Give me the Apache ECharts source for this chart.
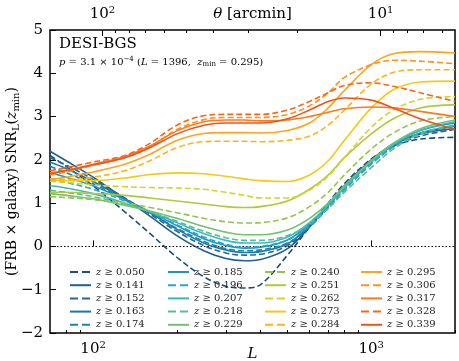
<!DOCTYPE html>
<html>
<head>
<meta charset="utf-8">
<script src="https://cdn.jsdelivr.net/npm/echarts@6/dist/echarts.min.js"></script>
<style>
  html, body { margin: 0; padding: 0; background: #fff; }
  #chart { width: 459px; height: 361px; }
</style>
</head>
<body>
<div id="chart"></div>
<script>
// multipole L sample points
const L = [70, 80, 100, 130, 160, 200, 250, 300, 350, 400, 500, 600, 700, 800, 1000, 1200, 1500, 2000];

// z_min of each curve, dashed/solid alternating
const zMin = ['0.050', '0.141', '0.152', '0.163', '0.174', '0.185', '0.196', '0.207', '0.218', '0.229',
              '0.240', '0.251', '0.262', '0.273', '0.284', '0.295', '0.306', '0.317', '0.328', '0.339'];

const colors = ['#1d4e78', '#235e8c', '#22699a', '#1c77a5', '#1886b0', '#1a96bb', '#22a8c8', '#3cb8bc',
                '#52bd98', '#72c170', '#94c44e', '#b0c83a', '#d8d22c', '#f6c913', '#fbb616', '#fca61b',
                '#fb931c', '#fa7c1a', '#f7671a', '#f2521b'];

// SNR values per curve
const snr050 = [2.10, 1.85, 1.40, 0.80, 0.30, -0.25, -0.70, -0.92, -0.96, -0.88, -0.20, 0.45, 1.00, 1.45, 2.02, 2.32, 2.48, 2.52];
const snr141 = [2.20, 1.98, 1.60, 1.10, 0.70, 0.25, -0.10, -0.28, -0.33, -0.30, -0.05, 0.45, 0.95, 1.40, 2.00, 2.35, 2.60, 2.72];
const snr152 = [2.05, 1.88, 1.55, 1.12, 0.75, 0.35, 0.02, -0.15, -0.20, -0.18, 0.02, 0.45, 0.92, 1.35, 1.95, 2.30, 2.55, 2.70];
const snr163 = [1.95, 1.80, 1.50, 1.10, 0.78, 0.40, 0.08, -0.08, -0.14, -0.12, 0.06, 0.48, 0.95, 1.38, 1.98, 2.35, 2.62, 2.78];
const snr174 = [1.85, 1.70, 1.45, 1.08, 0.78, 0.42, 0.12, -0.05, -0.10, -0.08, 0.08, 0.45, 0.90, 1.32, 1.92, 2.30, 2.60, 2.78];
const snr185 = [1.70, 1.60, 1.40, 1.08, 0.80, 0.48, 0.18, 0.02, -0.04, -0.02, 0.15, 0.52, 0.95, 1.38, 1.98, 2.38, 2.68, 2.85];
const snr196 = [1.55, 1.48, 1.32, 1.05, 0.80, 0.50, 0.22, 0.05, -0.02, 0.00, 0.15, 0.48, 0.88, 1.30, 1.90, 2.30, 2.62, 2.80];
const snr207 = [1.40, 1.35, 1.22, 1.00, 0.80, 0.55, 0.30, 0.14, 0.08, 0.08, 0.22, 0.55, 0.95, 1.35, 1.95, 2.35, 2.68, 2.88];
const snr218 = [1.30, 1.25, 1.15, 0.98, 0.80, 0.58, 0.35, 0.20, 0.14, 0.14, 0.25, 0.52, 0.88, 1.25, 1.82, 2.25, 2.60, 2.80];
const snr229 = [1.22, 1.18, 1.10, 0.95, 0.82, 0.65, 0.46, 0.33, 0.27, 0.27, 0.38, 0.65, 1.00, 1.40, 1.98, 2.38, 2.72, 2.92];
const snr240 = [1.15, 1.13, 1.08, 1.00, 0.90, 0.78, 0.65, 0.57, 0.54, 0.55, 0.66, 0.92, 1.25, 1.65, 2.25, 2.62, 2.90, 3.00];
const snr251 = [1.25, 1.25, 1.22, 1.18, 1.12, 1.05, 0.98, 0.92, 0.90, 0.92, 1.05, 1.32, 1.65, 2.05, 2.60, 2.95, 3.20, 3.27];
const snr262 = [1.50, 1.48, 1.42, 1.38, 1.36, 1.35, 1.32, 1.25, 1.18, 1.12, 1.12, 1.30, 1.62, 2.05, 2.75, 3.15, 3.40, 3.46];
const snr273 = [1.55, 1.52, 1.52, 1.58, 1.66, 1.70, 1.68, 1.62, 1.56, 1.52, 1.50, 1.65, 1.98, 2.45, 3.20, 3.62, 3.80, 3.82];
const snr284 = [1.55, 1.55, 1.60, 1.75, 1.98, 2.28, 2.42, 2.43, 2.43, 2.42, 2.45, 2.55, 2.80, 3.15, 3.75, 4.02, 4.08, 4.08];
const snr295 = [1.55, 1.60, 1.72, 1.90, 2.13, 2.45, 2.61, 2.63, 2.63, 2.62, 2.68, 2.85, 3.20, 3.60, 4.20, 4.45, 4.50, 4.47];
const snr306 = [1.65, 1.72, 1.88, 2.05, 2.30, 2.70, 2.93, 2.98, 2.98, 2.98, 3.05, 3.25, 3.55, 3.90, 4.20, 4.30, 4.28, 4.22];
const snr317 = [1.70, 1.76, 1.90, 2.08, 2.32, 2.67, 2.88, 2.92, 2.92, 2.90, 2.92, 3.00, 3.10, 3.18, 3.22, 3.20, 3.12, 3.00];
const snr328 = [1.75, 1.82, 1.95, 2.10, 2.38, 2.80, 3.02, 3.05, 3.05, 3.05, 3.15, 3.35, 3.55, 3.72, 3.78, 3.70, 3.55, 3.35];
const snr339 = [1.68, 1.75, 1.88, 2.05, 2.28, 2.60, 2.80, 2.85, 2.85, 2.85, 2.95, 3.15, 3.35, 3.43, 3.38, 3.20, 2.95, 2.70];

const curves = [snr050, snr141, snr152, snr163, snr174, snr185, snr196, snr207, snr218, snr229,
                snr240, snr251, snr262, snr273, snr284, snr295, snr306, snr317, snr328, snr339];

// tick labels
const bottomMajor = [100, 1000];
const bottomMinor = [80, 90, 200, 300, 400, 500, 600, 700, 800, 900, 2000];
const thetaMajor = [100, 10];
const thetaMinor = [90, 80, 70, 60, 50, 40, 30, 20, 9, 8, 7, 6];
const yTicks = [-2, -1, 0, 1, 2, 3, 4, 5];

// theta [arcmin] = 10800 / L
const thetaToL = t => 10800 / t;

const FONT = 'DejaVu Serif';
const supRich = {
    b: { fontFamily: FONT, fontSize: 15, color: '#000' },
    s: { fontFamily: FONT, fontSize: 10, color: '#000', verticalAlign: 'bottom', padding: [0, 0, 9, 0] }
};

const myChart = echarts.init(document.querySelector('#chart'));

const isDashed = i => i % 2 === 0;

const series = curves.map((vals, i) => ({
    name: zMin[i],
    type: 'line',
    xAxisIndex: 0,
    yAxisIndex: 0,
    data: vals.map((v, j) => [L[j], v]),
    smooth: 0.35,
    symbol: 'none',
    showSymbol: false,
    z: 2 + i,
    lineStyle: {
        color: colors[i],
        width: 1.6,
        type: isDashed(i) ? [6, 3] : 'solid'
    },
    itemStyle: { color: colors[i] }
}));

// dotted zero line
series[0].markLine = {
    silent: true,
    symbol: 'none',
    label: { show: false },
    lineStyle: { color: '#000', type: [1.5, 2], width: 1.2 },
    data: [{ yAxis: 0 }]
};

const legendCols = [0, 1, 2, 3].map(c => ({
    left: [64, 162, 259, 355][c],
    top: 262,
    orient: 'vertical',
    itemWidth: 21,
    itemHeight: 10,
    itemGap: 3.2,
    data: zMin.slice(c * 5, c * 5 + 5).map((name, k) => ({
        name,
        lineStyle: { width: 2, type: isDashed(c * 5 + k) ? [8, 4] : 'solid' }
    })),
    itemStyle: { opacity: 0 },
    formatter: name => '{i|z} ≥ ' + name,
    textStyle: {
        fontFamily: FONT, fontSize: 10, color: '#222', lineHeight: 10,
        rich: { i: { fontFamily: FONT, fontStyle: 'italic', fontSize: 10, color: '#222' } }
    }
}));

const option = {
    animation: false,
    backgroundColor: '#fff',
    grid: {
        left: 50, right: 4, top: 30, bottom: 28,
        containLabel: false, outerBoundsMode: 'none',
        show: true, borderColor: '#000', borderWidth: 1.5
    },
    legend: legendCols,
    xAxis: [
        {
            type: 'log', position: 'bottom', min: 70, max: 2000,
            axisLine: { show: false },
            splitLine: { show: false },
            axisTick: { inside: true, length: 6, lineStyle: { color: '#000', width: 1 }, customValues: bottomMajor },
            axisLabel: {
                margin: 7, customValues: bottomMajor,
                formatter: v => '{b|10}{s|' + Math.round(Math.log10(v)) + '}',
                rich: supRich
            },
            name: 'L', nameLocation: 'middle', nameGap: 14, nameMoveOverlap: false,
            nameTextStyle: { fontFamily: FONT, fontStyle: 'italic', fontSize: 15, color: '#000', verticalAlign: 'top' }
        },
        {
            type: 'log', position: 'bottom', min: 70, max: 2000,
            axisLine: { show: false }, splitLine: { show: false },
            axisTick: { inside: true, length: 3, lineStyle: { color: '#000', width: 1 }, customValues: bottomMinor },
            axisLabel: { show: false }
        },
        {
            type: 'log', position: 'top', min: 70, max: 2000,
            axisLine: { show: false }, splitLine: { show: false },
            axisTick: { inside: true, length: 6, lineStyle: { color: '#000', width: 1 }, customValues: thetaMajor.map(thetaToL) },
            axisLabel: {
                margin: 6, customValues: thetaMajor.map(thetaToL),
                formatter: v => '{b|10}{s|' + Math.round(Math.log10(10800 / v)) + '}',
                rich: supRich
            },
            name: '{i|θ} [arcmin]', nameLocation: 'middle', nameGap: 8, nameMoveOverlap: false,
            nameTextStyle: {
                fontFamily: FONT, fontSize: 15, color: '#000', verticalAlign: 'bottom',
                rich: { i: { fontFamily: FONT, fontStyle: 'italic', fontSize: 15, color: '#000' } }
            }
        },
        {
            type: 'log', position: 'top', min: 70, max: 2000,
            axisLine: { show: false }, splitLine: { show: false },
            axisTick: { inside: true, length: 3, lineStyle: { color: '#000', width: 1 }, customValues: thetaMinor.map(thetaToL) },
            axisLabel: { show: false }
        }
    ],
    yAxis: [{
        type: 'value', min: -2, max: 5, interval: 1,
        axisLine: { show: false },
        splitLine: { show: false },
        axisTick: { inside: true, length: 6, lineStyle: { color: '#000' }, customValues: yTicks },
        axisLabel: {
            margin: 7, fontFamily: FONT, fontSize: 15, color: '#000',
            formatter: v => (v < 0 ? '−' + Math.abs(v) : String(v))
        },
        name: '(FRB × galaxy) SNR{s|L}({i|z}{s|min})',
        nameLocation: 'middle', nameGap: 29, nameRotate: 90, nameMoveOverlap: false,
        nameTextStyle: {
            fontFamily: FONT, fontSize: 14, color: '#000',
            rich: {
                s: { fontFamily: FONT, fontSize: 10, color: '#000', verticalAlign: 'top', padding: [8, 0, 0, 0] },
                i: { fontFamily: FONT, fontStyle: 'italic', fontSize: 14, color: '#000' }
            }
        }
    }],
    graphic: [
        {
            type: 'text', left: 59, top: 37,
            style: { text: 'DESI-BGS', font: '15px "DejaVu Serif"', fill: '#000' }
        },
        {
            type: 'text', left: 59, top: 56,
            style: {
                text: '{i|p} = 3.1 × 10{s|−4} ({i|L} = 1396,  {i|z}{s2|min} = 0.295)',
                fill: '#000',
                font: '10px "DejaVu Serif"',
                rich: {
                    i: { fontFamily: FONT, fontStyle: 'italic', fontSize: 10 },
                    s: { fontFamily: FONT, fontSize: 7, verticalAlign: 'bottom', padding: [0, 0, 6, 0] },
                    s2: { fontFamily: FONT, fontSize: 7, verticalAlign: 'top', padding: [5, 0, 0, 0] }
                }
            }
        }
    ],
    series: series
};

myChart.setOption(option);
</script>
</body>
</html>
